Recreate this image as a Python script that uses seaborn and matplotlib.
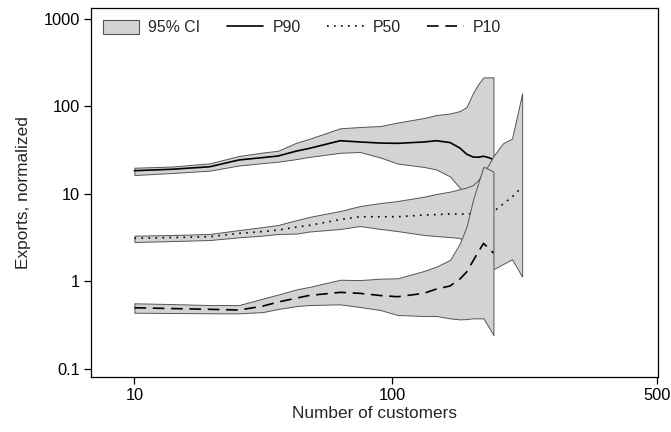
import numpy as np
import pandas as pd
import matplotlib
matplotlib.use("Agg")
import matplotlib.pyplot as plt
import seaborn as sns
from matplotlib.patches import Patch
from matplotlib.lines import Line2D
from matplotlib.ticker import FixedLocator, FixedFormatter, NullLocator

# ---- data ----
x_main = [10, 15, 22, 29, 36, 41, 48, 53, 68, 79, 92, 104, 125, 136, 149,
          159, 166, 173, 179, 185, 191, 197]
x_p50 = x_main + [209, 221, 235]

p90 = [18.4, 19.1, 20.4, 24.4, 26.0, 27.1, 30.9, 33.0, 40.5, 39.2, 38.1, 37.8,
       39.2, 40.5, 38.6, 33.4, 28.5, 26.4, 26.2, 26.9, 26.0, 24.7]
p90_hi = [19.9, 20.5, 22.3, 27.1, 29.7, 31.1, 38.6, 42.4, 56.2, 58.1, 59.7, 65.4,
          73.7, 79.7, 83.0, 88.6, 98.4, 142, 180, 215, 215, 215]
p90_lo = [16.4, 17.3, 18.4, 21.1, 22.5, 23.3, 25.0, 26.4, 29.5, 30.1, 26.0, 22.2,
          20.3, 19.0, 15.8, 11.7, 9.0, 7.0, 6.0, 5.5, 5.0, 5.0]

p50 = [3.10, 3.16, 3.23, 3.53, 3.70, 3.85, 4.17, 4.34, 5.08, 5.47, 5.47, 5.47,
       5.72, 5.79, 5.87, 5.87, 5.87, 5.95, 6.00, 6.11, 6.19, 6.24, 7.64, 9.19, 12.06]
p50_hi = [3.32, 3.38, 3.47, 3.85, 4.17, 4.40, 5.01, 5.43, 6.36, 7.25, 7.85, 8.27,
          9.27, 9.95, 10.6, 11.3, 11.8, 12.6, 14.4, 17.8, 21.4, 27.1, 37.8, 43.0, 141]
p50_lo = [2.81, 2.88, 2.96, 3.18, 3.33, 3.47, 3.51, 3.70, 3.96, 4.28, 3.96, 3.75,
          3.38, 3.29, 3.20, 3.12, 2.60, 2.28, 2.00, 1.75, 1.55, 1.37, 1.57, 1.78, 1.13]

p10 = [0.497, 0.487, 0.477, 0.468, 0.520, 0.578, 0.642, 0.686, 0.746, 0.727, 0.686,
       0.665, 0.727, 0.814, 0.882, 1.06, 1.27, 1.70, 2.16, 2.71, 2.40, 2.10]
p10_hi = [0.559, 0.548, 0.534, 0.534, 0.634, 0.704, 0.808, 0.858, 1.04, 1.03, 1.07,
          1.08, 1.31, 1.47, 1.75, 2.71, 4.20, 8.49, 13.3, 20.4, 19.2, 17.9]
p10_lo = [0.436, 0.433, 0.430, 0.429, 0.444, 0.481, 0.520, 0.534, 0.544, 0.507, 0.468,
          0.411, 0.400, 0.400, 0.376, 0.366, 0.369, 0.376, 0.376, 0.376, 0.302, 0.242]

x_ticks = [10, 100, 500]
x_tick_labels = ["10", "100", "500"]
y_ticks = [0.1, 1, 10, 100, 1000]
y_tick_labels = ["0.1", "1", "10", "100", "1000"]

series = [
    ("P90", x_main, p90, p90_lo, p90_hi, "-"),
    ("P50", x_p50, p50, p50_lo, p50_hi, (0, (1.0, 3.2))),
    ("P10", x_main, p10, p10_lo, p10_hi, (0, (7, 4))),
]

# ---- style ----
sns.set_style("ticks")
plt.rcParams["font.family"] = ["Liberation Sans", "DejaVu Sans"]
plt.rcParams["font.size"] = 11.5

BAND = "#d3d3d3"
EDGE = "#555555"

fig = plt.figure(figsize=(6.71, 4.32), dpi=100)
ax = fig.add_axes([0.1356, 0.1273, 0.9805 - 0.1356, 0.9815 - 0.1273])

z = 2
for name, xs, mid, lo, hi, ls in series:
    ax.fill_between(xs, lo, hi, facecolor=BAND, edgecolor=EDGE,
                    linewidth=0.7, zorder=z)
    df = pd.DataFrame({"x": xs, "y": mid})
    sns.lineplot(data=df, x="x", y="y", ax=ax, color="black", linewidth=1.2,
                 zorder=z + 1, legend=False, estimator=None)
    ax.lines[-1].set_linestyle(ls)
    z += 2

fwd = lambda v: np.sign(v) * np.abs(v) ** 0.2
inv = lambda v: np.sign(v) * np.abs(v) ** 5
ax.set_xscale("function", functions=(fwd, inv))
ax.set_yscale("log")
ax.set_xlim(5.95, 502)
ax.set_ylim(0.0802, 1337)

ax.xaxis.set_major_locator(FixedLocator(x_ticks))
ax.xaxis.set_major_formatter(FixedFormatter(x_tick_labels))
ax.xaxis.set_minor_locator(NullLocator())
ax.yaxis.set_major_locator(FixedLocator(y_ticks))
ax.yaxis.set_major_formatter(FixedFormatter(y_tick_labels))
ax.yaxis.set_minor_locator(NullLocator())

ax.tick_params(axis="both", direction="out", length=5, width=0.9,
               labelsize=11.8, colors="black", pad=3)
for s in ax.spines.values():
    s.set_linewidth(0.9)
    s.set_color("black")

ax.set_xlabel("Number of customers", fontsize=12.4, labelpad=2)
ax.set_ylabel("Exports, normalized", fontsize=12.4, labelpad=9)

handles = [
    Patch(facecolor=BAND, edgecolor=EDGE, linewidth=0.8),
    Line2D([], [], color="black", lw=1.2, linestyle="-"),
    Line2D([], [], color="black", lw=1.2, linestyle=(0, (1.0, 3.2))),
    Line2D([], [], color="black", lw=1.2, linestyle=(0, (7, 4))),
]
labels = ["95% CI", "P90", "P50", "P10"]
ax.legend(handles, labels, loc="upper left", ncol=4, frameon=False,
          handlelength=2.3, handleheight=0.95, handletextpad=0.57,
          columnspacing=1.68, borderaxespad=0.35, fontsize=11.4)

fig.savefig("out.png", dpi=100)
